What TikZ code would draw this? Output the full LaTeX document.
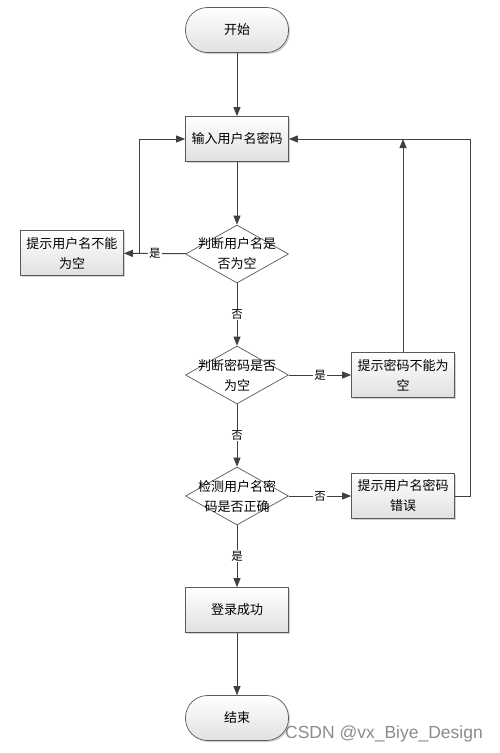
\documentclass[tikz,border=0pt]{standalone}
\usepackage{fontspec}
\newfontfamily\cjk{Noto Sans CJK SC}
\newfontfamily\wmfont{Liberation Sans}
\usetikzlibrary{arrows.meta,shapes.geometric,shadows}
\begin{document}
\begin{tikzpicture}[x=1pt,y=-1pt,
  ln/.style={draw=black!75,line width=0.9pt},
  arr/.style={ln,-{Triangle[length=9pt,width=7pt]}},
  box/.style={draw=black!65,line width=0.7pt,top color=white,bottom color=black!12,
    minimum width=103pt,minimum height=45pt,align=center,inner sep=2pt,
    font=\cjk\fontsize{13}{20}\selectfont,
    drop shadow={shadow xshift=1.5pt,shadow yshift=-1.5pt,opacity=0.35,fill=black!50}},
  term/.style={box,rounded corners=22pt},
  dia/.style={diamond,draw=black!65,line width=0.7pt,fill=white,
    minimum width=103pt,minimum height=58pt,inner sep=0pt},
  dtxt/.style={align=center,inner sep=0pt,font=\cjk\fontsize{13}{20}\selectfont},
  lab/.style={fill=white,inner sep=1pt,font=\cjk\fontsize{11.5}{13}\selectfont}
]
\useasboundingbox[fill=white] (0,0) rectangle (500,753);

\node[term] (start) at (237,30) {开始};
\node[box] (input) at (237,139) {输入用户名密码};
\node[dia,label={[dtxt]center:判断用户名是\\否为空}] (d1) at (237,254) {};
\node[box] (bleft) at (72,253) {提示用户名不能\\为空};
\node[dia,label={[dtxt]center:判断密码是否\\为空}] (d2) at (237,375) {};
\node[box] (bpw) at (403,375) {提示密码不能为\\空};
\node[dia,label={[dtxt]center:检测用户名密\\码是否正确}] (d3) at (237,496) {};
\node[box] (berr) at (403,496) {提示用户名密码\\错误};
\node[box] (ok) at (237,610) {登录成功};
\node[term] (end) at (237,718) {结束};

\coordinate (j1) at (139,254);
\coordinate (t2) at (403,139);
\coordinate (r) at (470,496);

\draw[arr] (start) -- (input);
\draw[arr] (input) -- (d1);
\draw[arr] (d1) -- node[lab]{是} (bleft);
\draw[arr] (j1) |- (input.west);
\draw[arr] (d1) -- node[lab]{否} (d2);
\draw[arr] (d2) -- node[lab]{是} (bpw);
\draw[arr] (bpw) -- (t2);
\draw[arr] (d2) -- node[lab]{否} (d3);
\draw[arr] (d3) -- node[lab]{否} (berr);
\draw[arr] (berr.east) -- (r) |- (input.east);
\draw[arr] (d3) -- node[lab]{是} (ok);
\draw[arr] (ok) -- (end);

\node[font=\wmfont\fontsize{17.5}{19}\selectfont,text=black!45,inner sep=0pt] (wm) at (384,734) {CSDN @vx\_Biye\_Design};
\end{tikzpicture}
\end{document}
